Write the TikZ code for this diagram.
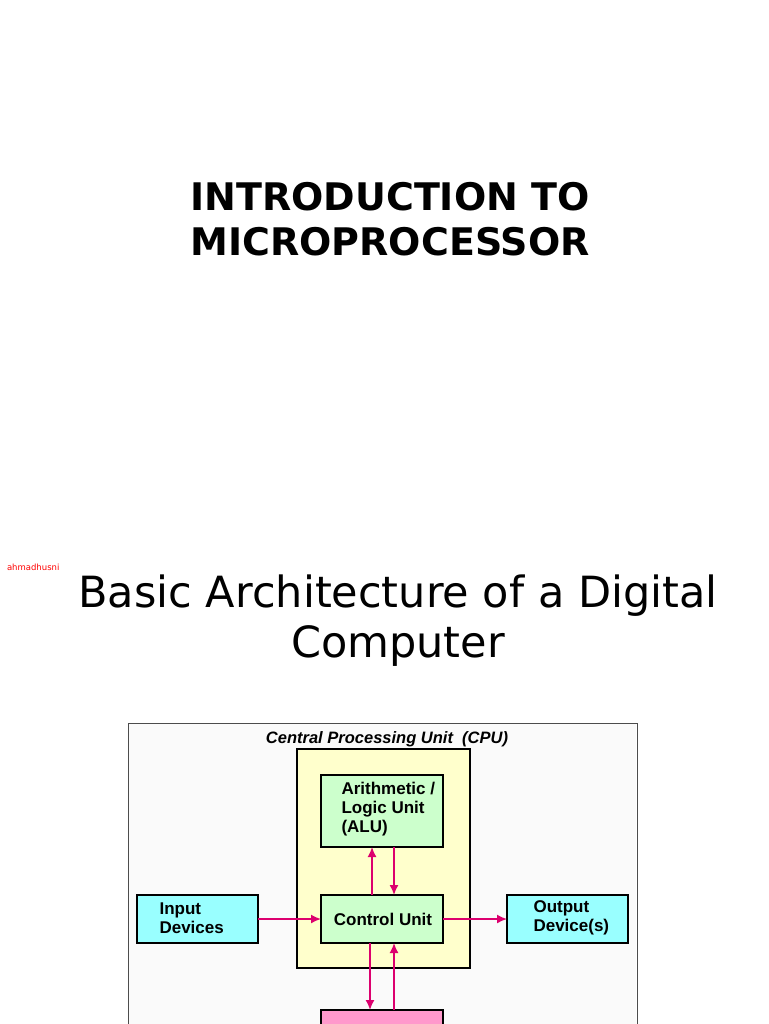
\documentclass[tikz,border=0pt]{standalone}
\usepackage{fontspec}
\setmainfont{DejaVu Sans}
\newfontfamily\arial{Liberation Sans}
\usetikzlibrary{arrows.meta}
\begin{document}
\begin{tikzpicture}[x=1pt,y=-1pt,
  lbl/.style={font=\arial\bfseries\fontsize{17}{19}\selectfont,align=left,anchor=west},
  arr/.style={draw={rgb,255:red,220;green,0;blue,110},line width=1.6pt,-{Latex[length=10pt,width=9pt]}}]
\useasboundingbox (0,0) rectangle (768,1024);
\fill[white] (0,0) rectangle (768,1024);
\node[font=\bfseries\fontsize{38}{45}\selectfont,align=center] (title) at (390,219) {INTRODUCTION TO\\MICROPROCESSOR};
\node[font=\fontsize{10}{11}\selectfont\color{red},anchor=west,scale=0.85] (by) at (4,567) {ahmadhusni};
\node[font=\fontsize{43}{50}\selectfont,align=center] (head) at (398,621) {Basic Architecture of a Digital\\Computer};
\fill[black!2] (129,724) rectangle (636,1024);
\draw[draw=black!70,line width=1pt] (128,1030) -- (128,723) -- (637,723) -- (637,1030);
\node[font=\arial\bfseries\itshape\fontsize{16.5}{18}\selectfont] (cpu) at (387,739) {Central Processing Unit\ \ (CPU)};
\draw[line width=1.6pt,fill={rgb,255:red,255;green,255;blue,204}] (297,749) rectangle (470,968);
\draw[line width=1.6pt,fill={rgb,255:red,204;green,255;blue,204}] (321,775) rectangle (443,847);
\node[lbl] (alu) at (338,809) {Arithmetic /\\Logic Unit\\(ALU)};
\draw[line width=1.6pt,fill={rgb,255:red,204;green,255;blue,204}] (321,895) rectangle (443,943);
\node[font=\arial\bfseries\fontsize{17}{19}\selectfont] (cu) at (383,919) {Control Unit};
\draw[line width=1.6pt,fill={rgb,255:red,153;green,255;blue,255}] (137,895) rectangle (258,943);
\node[lbl] (in) at (156,918) {Input\\Devices};
\draw[line width=1.6pt,fill={rgb,255:red,153;green,255;blue,255}] (507,895) rectangle (628,943);
\node[lbl] (out) at (530,918) {Output\\Device(s)};
\draw[line width=1.6pt,fill={rgb,255:red,255;green,153;blue,204}] (321,1010) rectangle (443,1030);
\coordinate (a1) at (372,895); \coordinate (a2) at (372,847);
\coordinate (b1) at (394,847); \coordinate (b2) at (394,895);
\coordinate (c1) at (370,943); \coordinate (c2) at (370,1010);
\coordinate (d1) at (394,1010); \coordinate (d2) at (394,943);
\coordinate (e1) at (258,919); \coordinate (e2) at (321,919);
\coordinate (f1) at (443,919); \coordinate (f2) at (507,919);
\draw[arr] (a1) -- (a2); \draw[arr] (b1) -- (b2);
\draw[arr] (c1) -- (c2); \draw[arr] (d1) -- (d2);
\draw[arr] (e1) -- (e2); \draw[arr] (f1) -- (f2);
\end{tikzpicture}
\end{document}
